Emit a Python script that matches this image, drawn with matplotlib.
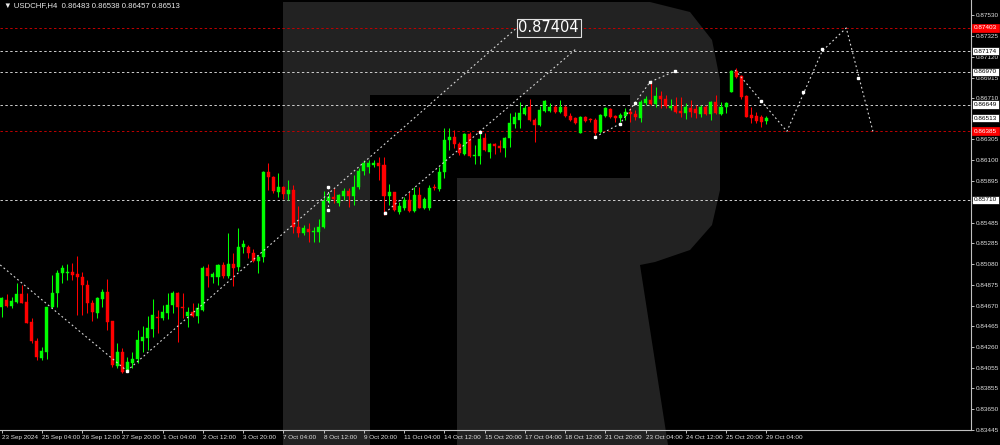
import matplotlib
matplotlib.use("Agg")
import matplotlib.pyplot as plt
from matplotlib.patches import Polygon, Rectangle

# ---- data (USDCHF H4) ----
opens = [0.84654, 0.84726, 0.84670, 0.84709, 0.84785, 0.84709, 0.84512, 0.84325, 0.84152, 0.84217,
         0.84654, 0.84792, 0.84989, 0.84989, 0.84999, 0.84982, 0.84955, 0.84874, 0.84699, 0.84601,
         0.84736, 0.84808, 0.84519, 0.84077, 0.84217, 0.84030, 0.84109, 0.84143, 0.84325, 0.84349,
         0.84441, 0.84562, 0.84546, 0.84601, 0.84677, 0.84798, 0.84660, 0.84568, 0.84611, 0.84569,
         0.84628, 0.85044, 0.84955, 0.84949, 0.85070, 0.84962, 0.85080, 0.85054, 0.85245, 0.85251,
         0.85186, 0.85113, 0.85146, 0.85983, 0.85939, 0.85792, 0.85841, 0.85766, 0.85808, 0.85447,
         0.85388, 0.85422, 0.85398, 0.85398, 0.85441, 0.85703, 0.85737, 0.85683, 0.85749, 0.85802,
         0.85749, 0.85835, 0.85998, 0.86038, 0.86054, 0.86077, 0.86054, 0.85749, 0.85786, 0.85595,
         0.85634, 0.85710, 0.85602, 0.85759, 0.85634, 0.85634, 0.85838, 0.85818, 0.85983, 0.86300,
         0.86333, 0.86258, 0.86160, 0.86357, 0.86143, 0.86146, 0.86317, 0.86185, 0.86258, 0.86244,
         0.86219, 0.86317, 0.86455, 0.86497, 0.86553, 0.86628, 0.86497, 0.86448, 0.86586, 0.86586,
         0.86628, 0.86573, 0.86628, 0.86540, 0.86520, 0.86372, 0.86530, 0.86504, 0.86497, 0.86382,
         0.86540, 0.86605, 0.86537, 0.86514, 0.86540, 0.86579, 0.86556, 0.86514, 0.86662, 0.86694,
         0.86655, 0.86733, 0.86701, 0.86612, 0.86635, 0.86589, 0.86569, 0.86612, 0.86602, 0.86553,
         0.86622, 0.86553, 0.86677, 0.86556, 0.86622, 0.86776, 0.86975, 0.86930, 0.86733, 0.86546,
         0.86537, 0.86524, 0.86483]
highs = [0.84759, 0.84785, 0.84759, 0.84896, 0.84877, 0.84792, 0.84546, 0.84349, 0.84261, 0.84660,
         0.84972, 0.85021, 0.85070, 0.85080, 0.85087, 0.85159, 0.84999, 0.84923, 0.84726, 0.84759,
         0.84831, 0.84930, 0.84522, 0.84300, 0.84251, 0.84168, 0.84217, 0.84431, 0.84470, 0.84569,
         0.84733, 0.84628, 0.84677, 0.84798, 0.84818, 0.84808, 0.84798, 0.84654, 0.84699, 0.84693,
         0.85061, 0.85080, 0.85004, 0.85080, 0.85103, 0.85382, 0.85186, 0.85432, 0.85316, 0.85267,
         0.85225, 0.85169, 0.85998, 0.86077, 0.85946, 0.85973, 0.85848, 0.85907, 0.85858, 0.85651,
         0.85464, 0.85487, 0.85441, 0.85520, 0.85802, 0.85776, 0.85825, 0.85766, 0.85825, 0.85825,
         0.85956, 0.86022, 0.86104, 0.86104, 0.86104, 0.86136, 0.86136, 0.85867, 0.85792, 0.85693,
         0.85742, 0.85786, 0.85841, 0.85841, 0.85742, 0.85858, 0.85864, 0.86038, 0.86421, 0.86421,
         0.86399, 0.86284, 0.86366, 0.86376, 0.86251, 0.86382, 0.86366, 0.86268, 0.86268, 0.86300,
         0.86333, 0.86563, 0.86573, 0.86677, 0.86645, 0.86704, 0.86514, 0.86638, 0.86694, 0.86662,
         0.86645, 0.86694, 0.86645, 0.86563, 0.86530, 0.86540, 0.86537, 0.86514, 0.86514, 0.86553,
         0.86628, 0.86618, 0.86546, 0.86563, 0.86612, 0.86612, 0.86596, 0.86694, 0.86733, 0.86874,
         0.86825, 0.86786, 0.86743, 0.86701, 0.86726, 0.86721, 0.86662, 0.86694, 0.86645, 0.86645,
         0.86645, 0.86687, 0.86743, 0.86677, 0.86677, 0.86989, 0.87006, 0.86940, 0.86743, 0.86628,
         0.86579, 0.86546, 0.86538]
lows = [0.84562, 0.84660, 0.84644, 0.84699, 0.84693, 0.84497, 0.84300, 0.84136, 0.84136, 0.84143,
        0.84644, 0.84660, 0.84896, 0.84923, 0.84923, 0.84578, 0.84578, 0.84595, 0.84522, 0.84546,
        0.84660, 0.84431, 0.84070, 0.84054, 0.84011, 0.84020, 0.84054, 0.84103, 0.84217, 0.84234,
        0.84365, 0.84398, 0.84529, 0.84536, 0.84595, 0.84316, 0.84546, 0.84463, 0.84562, 0.84497,
        0.84621, 0.84857, 0.84896, 0.84874, 0.84940, 0.84940, 0.84864, 0.85014, 0.85186, 0.85136,
        0.85103, 0.84995, 0.85103, 0.85808, 0.85782, 0.85742, 0.85717, 0.85710, 0.85388, 0.85343,
        0.85366, 0.85300, 0.85300, 0.85300, 0.85434, 0.85678, 0.85678, 0.85651, 0.85710, 0.85644,
        0.85661, 0.85815, 0.85956, 0.85979, 0.86038, 0.85907, 0.85562, 0.85661, 0.85602, 0.85569,
        0.85612, 0.85589, 0.85595, 0.85628, 0.85621, 0.85612, 0.85808, 0.85799, 0.85929, 0.86202,
        0.86219, 0.86153, 0.86153, 0.86136, 0.86061, 0.86061, 0.86192, 0.86126, 0.86160, 0.86185,
        0.86136, 0.86235, 0.86416, 0.86416, 0.86546, 0.86487, 0.86284, 0.86441, 0.86579, 0.86579,
        0.86563, 0.86563, 0.86530, 0.86490, 0.86455, 0.86366, 0.86481, 0.86481, 0.86350, 0.86372,
        0.86530, 0.86514, 0.86481, 0.86481, 0.86497, 0.86481, 0.86497, 0.86481, 0.86645, 0.86645,
        0.86628, 0.86612, 0.86612, 0.86596, 0.86569, 0.86530, 0.86504, 0.86530, 0.86514, 0.86530,
        0.86546, 0.86497, 0.86556, 0.86546, 0.86569, 0.86770, 0.86908, 0.86701, 0.86524, 0.86465,
        0.86471, 0.86431, 0.86457]
closes = [0.84743, 0.84670, 0.84716, 0.84785, 0.84699, 0.84503, 0.84325, 0.84162, 0.84224, 0.84654,
          0.84792, 0.84995, 0.85041, 0.85004, 0.84972, 0.84955, 0.84874, 0.84699, 0.84611, 0.84743,
          0.84808, 0.84512, 0.84086, 0.84217, 0.84020, 0.84113, 0.84143, 0.84332, 0.84359, 0.84448,
          0.84578, 0.84546, 0.84611, 0.84677, 0.84798, 0.84654, 0.84644, 0.84611, 0.84569, 0.84644,
          0.85044, 0.84962, 0.84979, 0.85070, 0.84962, 0.85080, 0.85044, 0.85251, 0.85277, 0.85186,
          0.85113, 0.85152, 0.85983, 0.85939, 0.85802, 0.85841, 0.85766, 0.85808, 0.85441, 0.85388,
          0.85437, 0.85398, 0.85408, 0.85447, 0.85703, 0.85737, 0.85717, 0.85759, 0.85802, 0.85749,
          0.85835, 0.85998, 0.86077, 0.86077, 0.86077, 0.86045, 0.85749, 0.85789, 0.85612, 0.85651,
          0.85710, 0.85602, 0.85759, 0.85634, 0.85720, 0.85831, 0.85825, 0.85983, 0.86300, 0.86333,
          0.86258, 0.86170, 0.86357, 0.86143, 0.86153, 0.86310, 0.86202, 0.86258, 0.86244, 0.86219,
          0.86323, 0.86465, 0.86530, 0.86563, 0.86618, 0.86497, 0.86448, 0.86596, 0.86684, 0.86628,
          0.86573, 0.86628, 0.86540, 0.86497, 0.86471, 0.86530, 0.86490, 0.86494, 0.86366, 0.86546,
          0.86618, 0.86527, 0.86514, 0.86546, 0.86579, 0.86556, 0.86530, 0.86677, 0.86701, 0.86655,
          0.86733, 0.86701, 0.86635, 0.86635, 0.86579, 0.86569, 0.86622, 0.86579, 0.86563, 0.86622,
          0.86553, 0.86677, 0.86563, 0.86628, 0.86667, 0.86975, 0.86923, 0.86726, 0.86530, 0.86514,
          0.86490, 0.86481, 0.86513]

tick_idx = [0, 8, 16, 24, 32, 40, 48, 56, 64, 72, 80, 88, 96, 104, 112, 120, 128, 136, 144, 152]
tick_lbl = ["23 Sep 2024", "25 Sep 04:00", "26 Sep 12:00", "27 Sep 20:00", "1 Oct 04:00",
            "2 Oct 12:00", "3 Oct 20:00", "7 Oct 04:00", "8 Oct 12:00", "9 Oct 20:00",
            "11 Oct 04:00", "14 Oct 12:00", "15 Oct 20:00", "17 Oct 04:00", "18 Oct 12:00",
            "21 Oct 20:00", "23 Oct 04:00", "24 Oct 12:00", "25 Oct 20:00", "29 Oct 04:00"]
price_ticks = [0.87530, 0.87325, 0.87120, 0.86915, 0.86710, 0.86510, 0.86305, 0.86100, 0.85895,
               0.85690, 0.85485, 0.85285, 0.85080, 0.84875, 0.84670, 0.84465, 0.84260, 0.84055,
               0.83855, 0.83650, 0.83445]
hidden_ticks = [0.86510, 0.85690]   # covered by the price boxes in the original

# levels
red_levels = [0.87403, 0.86385]
white_levels = [0.87174, 0.86970, 0.86649, 0.85710]
bid = 0.86513

# forecast / trend paths (bar index, price)
path0_x = [-0.3, 24.9];            path0_y = [0.85070, 0.84027]
path1_x = [24.9, 102.4];           path1_y = [0.84027, 0.87404]
path2_x = [76.2, 114.4];           path2_y = [0.85582, 0.87206]
path3_x = [118.0, 122.9, 125.9, 128.9, 133.9]
path3_y = [0.86330, 0.86458, 0.86665, 0.86871, 0.86979]
path4_x = [145.8, 156.1, 163.1, 167.9, 173.2]
path4_y = [0.86989, 0.86385, 0.87174, 0.87403, 0.86385]
mark_x = [24.9, 64.9, 64.9, 76.2, 95.1, 118.0, 122.9, 125.9, 128.9, 133.9, 150.9, 159.3, 163.1, 170.2]
mark_y = [0.84027, 0.85838, 0.85612, 0.85582, 0.86379, 0.86330, 0.86458, 0.86665, 0.86871, 0.86979,
          0.86684, 0.86773, 0.87196, 0.86911]

BG = "#000000"
UP = "#00ff00"
DN = "#ff0000"
AX = "#bfbfbf"
W, H = 1000, 445

fig = plt.figure(figsize=(W / 100, H / 100), dpi=100, facecolor=BG)

def fx(x):
    return x / W

def fy(y):
    return 1 - y / H

# RoboForex watermark "R" (behind the chart)
wm = "#222222"
r_shape = [(283, 2), (650, 2), (690, 12), (712, 40), (720, 80), (720, 190), (712, 225), (690, 250),
           (655, 262), (640, 265), (668, 445), (457, 445), (457, 178), (630, 178), (630, 95),
           (370, 95), (370, 445), (283, 445)]
fig.patches.append(Polygon([(fx(a), fy(b)) for a, b in r_shape], closed=True, fc=wm, ec="none",
                           transform=fig.transFigure, zorder=-5))

ax = fig.add_axes([0, 15 / H, 971 / W, 1 - 15 / H])
ax.set_zorder(2)
ax.set_facecolor("none")
ax.set_xlim(-0.34, 192.7)
ax.set_ylim(0.83447, 0.87678)

for sp in ["top", "left"]:
    ax.spines[sp].set_visible(False)
for sp in ["right", "bottom"]:
    ax.spines[sp].set_color(AX)
    ax.spines[sp].set_linewidth(0.8)

# level lines
for lv in white_levels:
    ax.axhline(lv, color="#d0d0d0", lw=0.7, ls=(0, (2.5, 2.5)), zorder=1)
for lv in red_levels:
    ax.axhline(lv, color="#c00000", lw=0.7, ls=(0, (2.5, 2.5)), zorder=1)

# candles
n = len(opens)
for i in range(n):
    o, h, l, c = opens[i], highs[i], lows[i], closes[i]
    col = UP if c >= o else DN
    ax.vlines(i, l, h, color=col, lw=0.75, zorder=3)
    lo, hi = min(o, c), max(o, c)
    if hi - lo < 0.00004:
        hi = lo + 0.00004
    ax.add_patch(Rectangle((i - 0.3, lo), 0.6, hi - lo, fc=col, ec=col, lw=0.3, zorder=4))

# dotted paths
dot = dict(color="#d8d8d8", lw=0.8, ls=(0, (1.6, 2.4)), zorder=5)
for px_, py_ in [(path0_x, path0_y), (path1_x, path1_y), (path2_x, path2_y),
                 (path3_x, path3_y), (path4_x, path4_y)]:
    ax.plot(px_, py_, **dot)
ax.plot([64.9, 64.9], [0.85838, 0.85612], **dot)
ax.plot(mark_x, mark_y, ls="none", marker="s", ms=2.0, mfc="white", mec="white", zorder=6)

# 0.87404 label
ax.text(path1_x[1] + 0.3, path1_y[1], "0.87404", color="white", fontsize=10.5,
        family=["Liberation Sans Narrow", "DejaVu Sans"], ha="left", va="center", zorder=7,
        bbox=dict(boxstyle="square,pad=0.12", fc="#2b2b2b", ec="#e0e0e0", lw=0.8))

# axes ticks
ax.yaxis.tick_right()
ax.set_yticks(price_ticks)
ax.set_yticklabels(["" if p in hidden_ticks else f"{p:.5f}" for p in price_ticks])
ax.tick_params(axis="y", colors=AX, labelcolor="#e0e0e0", labelsize=4.6, length=2.5,
               width=0.7, pad=1)
ax.set_xticks(tick_idx)
ax.set_xticklabels(tick_lbl)
ax.tick_params(axis="x", colors=AX, labelcolor="#e0e0e0", labelsize=4.6, length=2.5,
               width=0.7, pad=1)
for t in ax.get_xticklabels():
    t.set_horizontalalignment("left")
for t in ax.get_yticklabels() + ax.get_xticklabels():
    t.set_family(["Liberation Sans", "DejaVu Sans"])

# price boxes on the right
tr = ax.get_yaxis_transform()
boxes = [(0.87403, DN, "white"), (0.87174, "white", "black"), (0.86970, "white", "black"),
         (0.86649, "white", "black"), (bid, "white", "black"), (0.86385, DN, "white"),
         (0.85710, "white", "black")]
for v, fc, tc in boxes:
    ax.text(1.003, v, f"{v:.5f}", transform=tr, color=tc, fontsize=4.6, ha="left", va="center",
            family=["Liberation Sans", "DejaVu Sans"], zorder=8, clip_on=False,
            bbox=dict(boxstyle="square,pad=0.25", fc=fc, ec=fc if fc != "white" else "black",
                      lw=0.5))

# header
fig.text(fx(4), fy(6), "\u25bc USDCHF,H4  0.86483 0.86538 0.86457 0.86513", color="#e8e8e8",
         fontsize=5.6, ha="left", va="center", family=["Liberation Sans", "DejaVu Sans"])

fig.savefig("out.png", dpi=100, facecolor=BG)
